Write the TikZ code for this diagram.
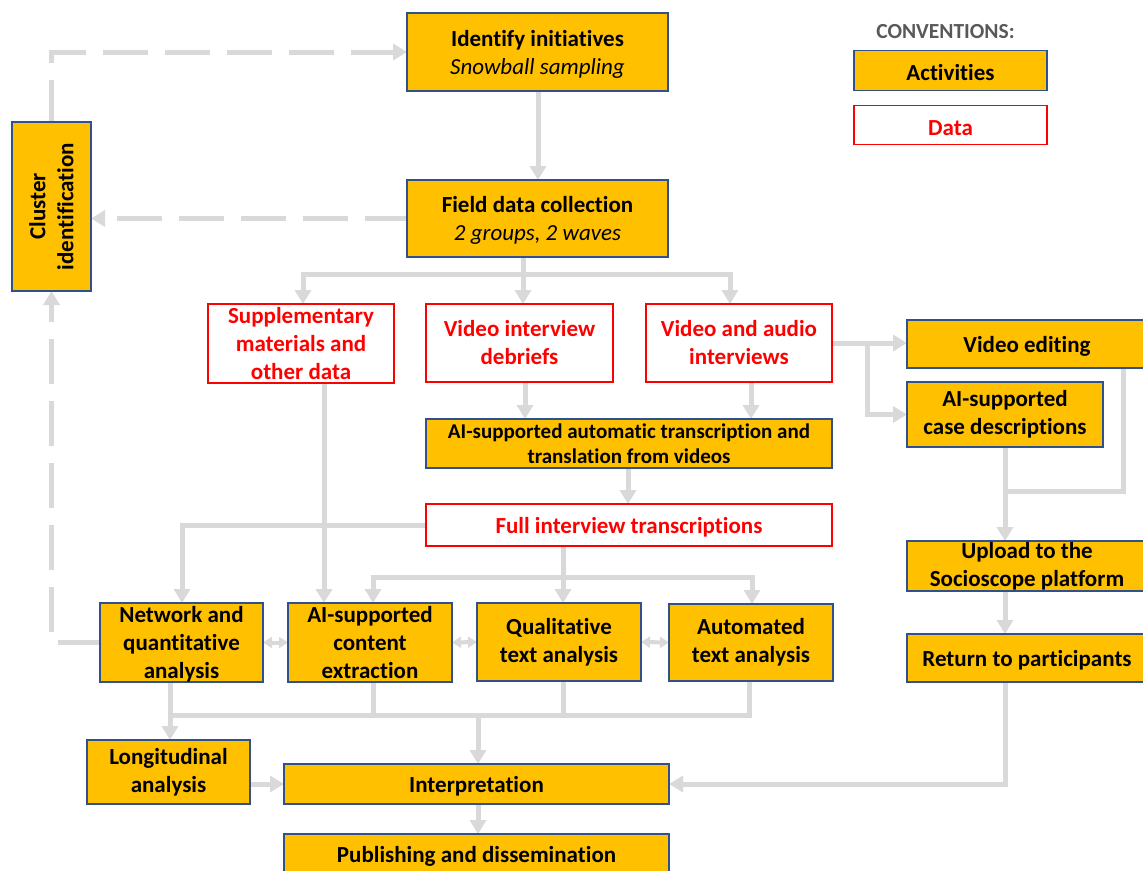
\documentclass[tikz,border=0pt]{standalone}
\usepackage{fontspec}
\setmainfont{Carlito}[Ligatures=NoCommon]
\usetikzlibrary{arrows.meta,backgrounds}
\definecolor{actfill}{HTML}{FFC000}
\definecolor{actline}{HTML}{2F528F}
\definecolor{conncol}{HTML}{D9D9D9}
\definecolor{datred}{HTML}{FF0000}
\definecolor{convgray}{HTML}{595959}
\begin{document}
\begin{tikzpicture}[x=1pt,y=-1pt,
  box/.style={rectangle, inner sep=0pt, outer sep=0pt, align=center,
    font=\fontsize{23}{28}\selectfont\bfseries, line width=1.5pt,
    execute at begin node={\rule{0pt}{21pt}}},
  act/.style={box, fill=actfill, draw=actline},
  dat/.style={box, fill=white, draw=datred, text=datred},
  conn/.style={draw=conncol, line width=5pt, line cap=rect},
  arr/.style={conn, -{Triangle[width=16pt,length=14pt]}},
  dashconn/.style={conn, dash pattern=on 40pt off 22pt},
  darr/.style={draw=conncol, line width=4pt,
    {Triangle[width=11pt,length=9pt]}-{Triangle[width=11pt,length=9pt]}}
]
\useasboundingbox (0,0) rectangle (1143,870);

% legend
\node[font=\fontsize{21.5}{26}\selectfont\bfseries, text=convgray, inner sep=0pt] (conv) at (945.5,32) {CONVENTIONS:};
\node[act, minimum width=193, minimum height=40] (legAct) at (950.5,70.5) {Activities};
\node[dat, minimum width=193, minimum height=39] (legDat) at (950.5,125) {Data};

% activities and data
\node[act, minimum width=261, minimum height=78] (Identify) at (537.5,52)
  {Identify initiatives\\{\mdseries\itshape\smash{Snowball sampling}}};
\node[act, minimum width=261, minimum height=77] (Field) at (537.5,218.5)
  {Field data collection\\{\mdseries\itshape\smash{2 groups, 2 waves}}};
\node[act, minimum width=79, minimum height=169] (Cluster) at (51.5,206.5) {};
\node[rotate=90, align=center, inner sep=0pt, font=\fontsize{23}{28}\selectfont\bfseries] (ClusterText) at (Cluster.center) {Cluster\\identification};

\node[dat, minimum width=186, minimum height=79] (Supp) at (301,343.5)
  {Supplementary\\materials and\\other data};
\node[dat, minimum width=187, minimum height=78] (Debriefs) at (519.5,343)
  {Video interview\\debriefs};
\node[dat, minimum width=186, minimum height=78] (VidAudio) at (739,343)
  {Video and audio\\interviews};
\node[act, minimum width=240, minimum height=48] (VideoEdit) at (1027,344) {Video editing};
\node[act, minimum width=196, minimum height=65] (AIcase) at (1005,414.5)
  {AI-supported\\case descriptions};
\node[act, minimum width=406, minimum height=49, font=\fontsize{21}{25}\selectfont\bfseries] (AItrans) at (629,443.5)
  {AI-supported automatic transcription and\\translation from videos};
\node[dat, minimum width=406, minimum height=42] (FullTrans) at (629,525)
  {Full interview transcriptions};
\node[act, minimum width=240, minimum height=50] (Upload) at (1027,566)
  {Upload to the\\Socioscope platform};
\node[act, minimum width=240, minimum height=48] (Return) at (1027,658)
  {Return to participants};

\node[act, minimum width=163, minimum height=79] (Network) at (181.5,642.5)
  {Network and\\quantitative\\\smash{analysis}};
\node[act, minimum width=164, minimum height=79] (AIcontent) at (370,642.5)
  {AI-supported\\content\\extraction};
\node[act, minimum width=164, minimum height=78] (Qual) at (559,642)
  {Qualitative\\text analysis};
\node[act, minimum width=164, minimum height=77] (Auto) at (751,642.5)
  {Automated\\text analysis};
\node[act, minimum width=163, minimum height=64] (Longit) at (168.5,772)
  {Longitudinal\\analysis};
\node[act, minimum width=385, minimum height=40] (Interp) at (476.5,784)
  {Interpretation};
\node[act, minimum width=385, minimum height=39] (Publish) at (476.5,853.5)
  {Publishing and dissemination};

% junction coordinates
\coordinate (xif) at (538,0);
\coordinate (fj) at (523,274);
\coordinate (fjL) at (303,274);
\coordinate (fjR) at (730,274);
\coordinate (xdeb) at (525,0);
\coordinate (xva) at (751,0);
\coordinate (xat) at (628,0);
\coordinate (vbr) at (867,343);
\coordinate (vej) at (1123,491);
\coordinate (xr) at (1005,0);
\coordinate (rj) at (1005,785);
\coordinate (ftj) at (182,525);
\coordinate (xsp) at (324,0);
\coordinate (tj) at (563,577);
\coordinate (tjL) at (373,577);
\coordinate (tjR) at (752,577);
\coordinate (bj) at (170,715);
\coordinate (bjR) at (749,715);
\coordinate (bjI) at (478,715);

\begin{scope}[on background layer]
\draw[arr] (Identify.south -| xif) -- (Field.north -| xif);
\draw[arr] (Field.south -| fj) -- (fj |- Debriefs.north);
\draw[arr] (fjR) -- (fjL) -- (fjL |- Supp.north);
\draw[arr] (fjR) -- (fjR |- VidAudio.north);
\draw[arr] (Debriefs.south -| xdeb) -- (AItrans.north -| xdeb);
\draw[arr] (VidAudio.south -| xva) -- (AItrans.north -| xva);
\draw[arr] (AItrans.south -| xat) -- (FullTrans.north -| xat);
\draw[arr] (VidAudio.east) -- (VidAudio.east -| VideoEdit.west);
\draw[arr] (vbr) |- (AIcase.west);
\draw[conn] (VideoEdit.south -| vej) -- (vej) -- (vej -| AIcase.south);
\draw[arr] (AIcase.south) -- (AIcase.south |- Upload.north);
\draw[arr] (Upload.south -| xr) -- (Return.north -| xr);
\draw[arr] (Return.south -| rj) |- (Interp.east);
\draw[arr] (FullTrans.west) -| (ftj |- Network.north);
\draw[arr] (Supp.south -| xsp) -- (AIcontent.north -| xsp);
\draw[arr] (FullTrans.south -| tj) -- (tj |- Qual.north);
\draw[arr] (tjR) -- (tjL) -- (tjL |- AIcontent.north);
\draw[arr] (tjR) -- (tjR |- Auto.north);
\draw[darr] (Network.east) -- (AIcontent.west);
\draw[darr] (AIcontent.east) -- (Qual.west);
\draw[darr] (Qual.east) -- (Auto.west);
\draw[dashconn, -{Triangle[width=16pt,length=14pt]}] (Network.west) -| (Cluster.south);
\draw[dashconn, -{Triangle[width=16pt,length=14pt]}] (Cluster.north) |- (Identify.west);
\draw[dashconn, -{Triangle[width=16pt,length=14pt]}] (Field.west) -- (Field.west -| Cluster.east);
\draw[arr] (Network.south -| bj) -- (bj |- Longit.north);
\draw[conn] (bj) -- (bjR) -- (bjR |- Auto.south);
\draw[conn] (AIcontent.south -| tjL) -- (tjL |- bj);
\draw[conn] (Qual.south -| tj) -- (tj |- bj);
\draw[arr] (bjI) -- (bjI |- Interp.north);
\draw[arr] (Interp.west -| Longit.east) -- (Interp.west);
\draw[arr] (Interp.south -| bjI) -- (Publish.north -| bjI);
\end{scope}
\end{tikzpicture}
\end{document}
